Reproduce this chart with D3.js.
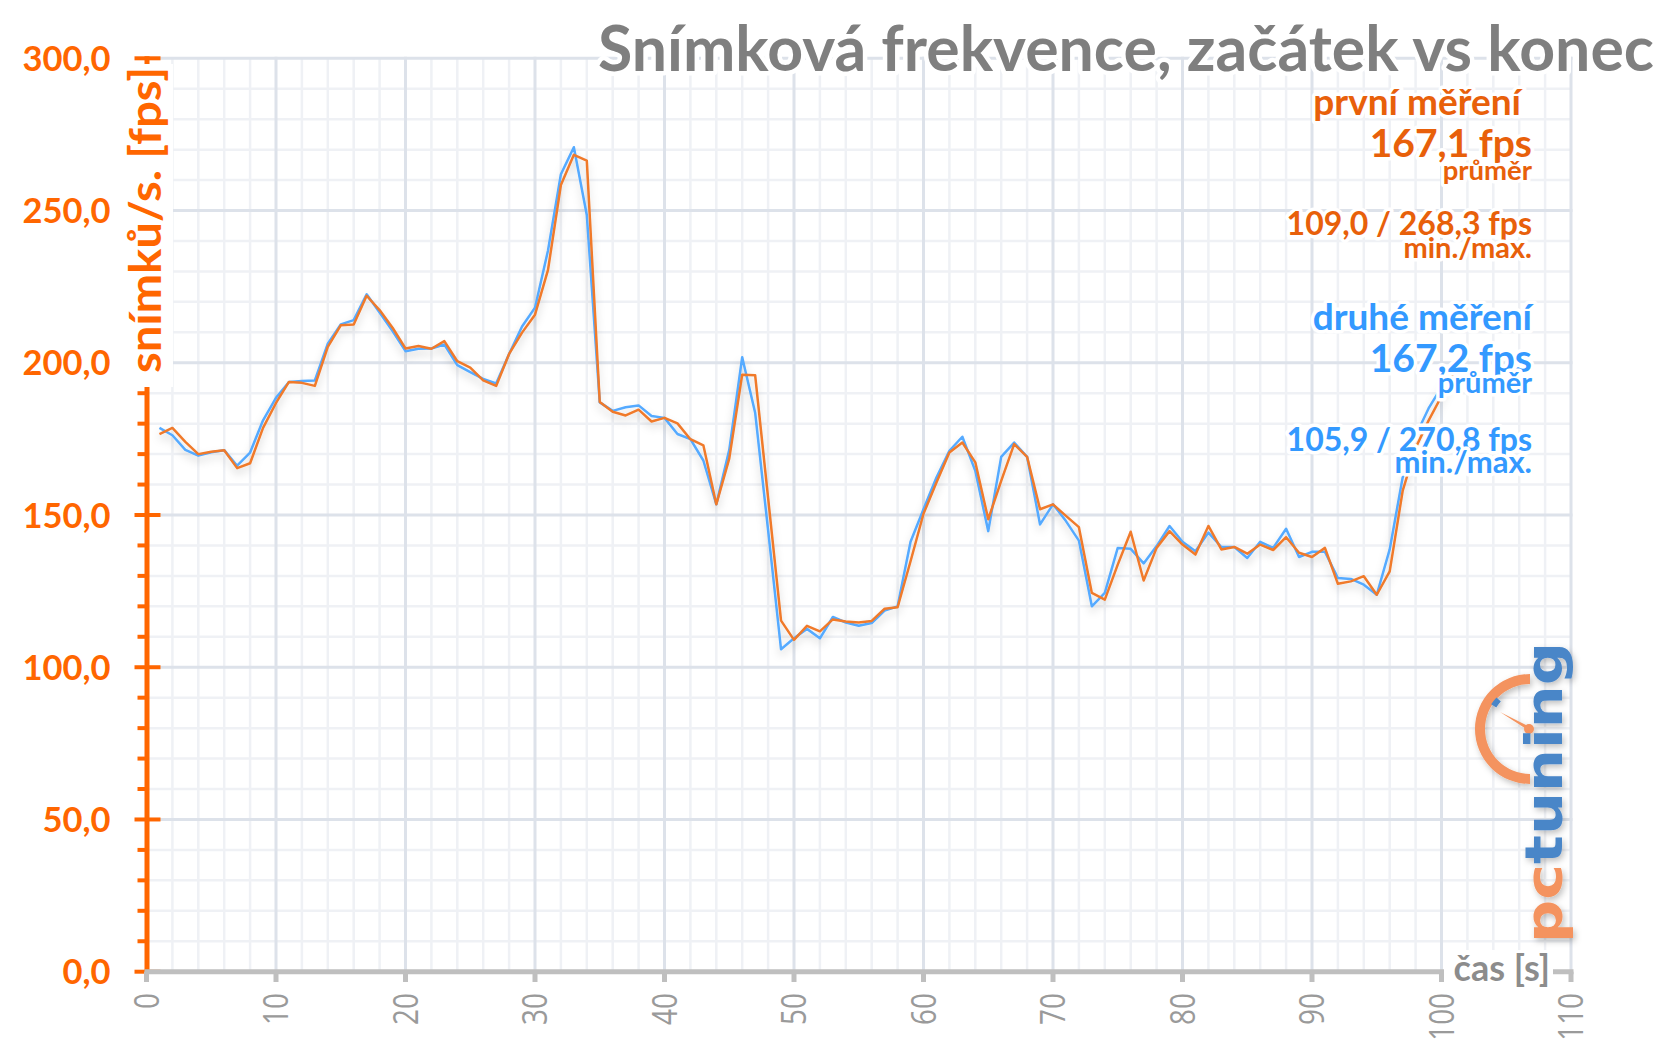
<!DOCTYPE html>
<html><head><meta charset="utf-8">
<script src="https://cdn.jsdelivr.net/npm/d3@7"></script>
<style>html,body{margin:0;padding:0;background:#fff;} svg{display:block;}</style>
</head><body>
<svg id="chart" width="1668" height="1058"></svg>
<script>
// ---------------- DATA ----------------
const seconds = [1,2,3,4,5,6,7,8,9,10,11,12,13,14,15,16,17,18,19,20,21,22,23,24,25,26,27,28,29,30,
  31,32,33,34,35,36,37,38,39,40,41,42,43,44,45,46,47,48,49,50,51,52,53,54,55,56,57,58,59,60,
  61,62,63,64,65,66,67,68,69,70,71,72,73,74,75,76,77,78,79,80,81,82,83,84,85,86,87,88,89,90,
  91,92,93,94,95,96,97,98,99,100,101];
// první měření (orange)
const firstRun = [176.6,178.6,174.0,170.0,170.8,171.3,165.4,167.0,178.6,186.8,
  193.7,193.4,192.4,205.2,212.3,212.6,222.0,217.3,211.5,204.7,
  205.5,204.6,207.1,200.5,198.4,194.2,192.4,202.9,209.9,215.8,
  230.4,258.4,268.3,266.4,187.1,183.9,182.7,184.6,180.7,181.9,
  180.1,174.9,172.9,153.5,168.5,196.1,195.9,155.6,115.3,109.0,
  113.6,111.8,115.7,115.0,114.7,115.2,119.2,119.7,134.8,150.4,
  160.7,170.5,173.8,167.3,148.6,161.2,173.3,169.1,151.9,153.5,
  149.7,146.0,124.4,122.2,133.7,144.5,128.5,139.2,144.7,140.3,
  137.0,146.4,138.7,139.5,137.3,140.3,138.5,142.7,137.6,136.2,
  139.2,127.4,128.2,129.9,123.8,131.5,157.9,172.0,181.0,189.0,197.0];
// druhé měření (blue)
const secondRun = [178.6,176.2,171.4,169.5,170.6,171.3,166.2,170.5,181.1,188.5,
  193.7,194.0,194.2,206.3,212.6,214.0,222.5,216.5,210.4,203.8,
  204.6,204.7,206.0,199.2,196.9,194.7,193.2,202.9,211.9,218.1,
  236.8,261.9,270.8,248.5,187.0,184.2,185.4,186.0,182.5,181.9,
  176.6,174.9,167.9,153.5,171.4,201.8,183.6,145.0,105.9,109.5,
  112.6,109.5,116.5,114.7,113.6,114.5,118.6,120.0,141.2,151.9,
  162.3,171.1,175.7,164.5,144.7,169.1,173.8,169.1,146.9,153.5,
  148.0,141.6,120.0,124.4,139.2,138.9,134.1,139.8,146.4,141.2,
  138.1,144.2,139.5,139.5,135.9,141.2,139.2,145.5,136.2,137.9,
  137.9,129.3,129.0,127.1,123.8,138.7,162.3,176.0,185.0,192.0,198.0];
const xTicks = [0,10,20,30,40,50,60,70,80,90,100,110];
const xTickLabels = ["0","10","20","30","40","50","60","70","80","90","100","110"];
const yTicks = [0,50,100,150,200,250,300];
const yTickLabels = ["0,0","50,0","100,0","150,0","200,0","250,0","300,0"];
const chartTitle = "Snímková frekvence, začátek vs konec";
const yTitle = "snímků/s. [fps]";
const xTitle = "čas [s]";
const firstStats = ["první měření", "167,1 fps", "průměr", "109,0 / 268,3 fps", "min./max."];
const secondStats = ["druhé měření", "167,2 fps", "průměr", "105,9 / 270,8 fps", "min./max."];

// ---------------- DRAW ----------------
const svg = d3.select("#chart");
const x = d3.scaleLinear().domain([0, 110]).range([146.5, 1571]);
const y = d3.scaleLinear().domain([0, 300]).range([971.7, 58.3]);

const ORANGE_AXIS = "#ff6600", ORANGE_TXT = "#e8600a", BLUE_TXT = "#3399ff";
const ORANGE_LINE = "#f07a2c", BLUE_LINE = "#55aaff";
const FONT = "Lato, 'Open Sans', sans-serif";

const defs = svg.append("defs");
const sh = defs.append("filter").attr("id", "shadow")
  .attr("x", "-5%").attr("y", "-10%").attr("width", "110%").attr("height", "130%");
sh.append("feDropShadow").attr("dx", 0).attr("dy", 5).attr("stdDeviation", 4)
  .attr("flood-color", "#000").attr("flood-opacity", 0.15);
const lsh = defs.append("filter").attr("id", "logoShadow")
  .attr("x", "-30%").attr("y", "-30%").attr("width", "160%").attr("height", "160%");
lsh.append("feDropShadow").attr("dx", 2).attr("dy", 3).attr("stdDeviation", 3)
  .attr("flood-color", "#000").attr("flood-opacity", 0.25);

// grid
const grid = svg.append("g");
const minorX = d3.range(0, 111, 2).filter(v => v % 10 !== 0);
const minorY = d3.range(0, 301, 10).filter(v => v % 50 !== 0);
grid.selectAll(".vmin").data(minorX).join("line")
  .attr("x1", d => x(d)).attr("x2", d => x(d)).attr("y1", y(300)).attr("y2", y(0))
  .attr("stroke", "#eff1f5").attr("stroke-width", 2.5);
grid.selectAll(".hmin").data(minorY).join("line")
  .attr("x1", x(0)).attr("x2", x(110)).attr("y1", d => y(d)).attr("y2", d => y(d))
  .attr("stroke", "#eff1f5").attr("stroke-width", 2.5);
grid.selectAll(".vmaj").data(xTicks).join("line")
  .attr("x1", d => x(d)).attr("x2", d => x(d)).attr("y1", y(300) - 1.5).attr("y2", y(0))
  .attr("stroke", "#dde2ea").attr("stroke-width", 3);
grid.selectAll(".hmaj").data(yTicks).join("line")
  .attr("x1", x(0)).attr("x2", x(110) + 1.5).attr("y1", d => y(d)).attr("y2", d => y(d))
  .attr("stroke", "#dde2ea").attr("stroke-width", 3);

// logo
const logo = svg.append("g").attr("filter", "url(#logoShadow)");
const cx = 1530, cy = 729;
logo.append("path")
  .attr("d", d3.arc()({innerRadius: 45, outerRadius: 55, startAngle: Math.PI, endAngle: 2 * Math.PI}))
  .attr("transform", `translate(${cx},${cy})`).attr("fill", "#f4935e");
logo.append("path")
  .attr("d", d3.arc()({innerRadius: 40, outerRadius: 46, startAngle: 1.68 * Math.PI, endAngle: 1.74 * Math.PI}))
  .attr("transform", `translate(${cx},${cy})`).attr("fill", "#4a86c8");
logo.append("path")
  .attr("d", `M${cx - 2},${cy - 3} L${cx - 30},${cy - 17} L${cx + 1},${cy + 3} Z`)
  .attr("fill", "#f4935e");
logo.append("circle").attr("cx", cx - 1).attr("cy", cy).attr("r", 5).attr("fill", "#f4935e");
const lt = logo.append("text")
  .attr("transform", "translate(1562,943) rotate(-90)")
  .attr("font-family", "'DejaVu Sans', sans-serif").attr("font-weight", "bold")
  .attr("font-size", 52).attr("textLength", 301).attr("lengthAdjust", "spacingAndGlyphs");
lt.append("tspan").attr("fill", "#f4935e").text("pc");
lt.append("tspan").attr("fill", "#4a86c8").text("tuning");

// y axis
const yAxis = svg.append("g");
yAxis.append("line").attr("x1", 147).attr("x2", 147).attr("y1", y(300) - 2).attr("y2", y(0))
  .attr("stroke", ORANGE_AXIS).attr("stroke-width", 5);
yAxis.selectAll(".ymaj").data(yTicks).join("line")
  .attr("x1", 134.5).attr("x2", 160.5).attr("y1", d => y(d)).attr("y2", d => y(d))
  .attr("stroke", ORANGE_AXIS).attr("stroke-width", 4);
yAxis.selectAll(".ymin").data(minorY).join("line")
  .attr("x1", 137.5).attr("x2", 147).attr("y1", d => y(d)).attr("y2", d => y(d))
  .attr("stroke", ORANGE_AXIS).attr("stroke-width", 4);
yAxis.selectAll(".ylab").data(yTicks).join("text")
  .attr("x", 110.5).attr("y", d => y(d) + 12.5).attr("text-anchor", "end")
  .attr("font-family", FONT).attr("font-weight", "bold").attr("font-size", 34.5)
  .attr("fill", ORANGE_AXIS).text((d, i) => yTickLabels[i]);

// y title with white box
yAxis.append("rect").attr("x", 119).attr("y", 64).attr("width", 54).attr("height", 323).attr("fill", "#fff");
yAxis.append("text").attr("transform", "translate(161,373) rotate(-90)")
  .attr("text-anchor", "start").attr("font-family", FONT).attr("font-weight", "bold")
  .attr("font-size", 44).attr("textLength", 306).attr("lengthAdjust", "spacingAndGlyphs")
  .attr("fill", ORANGE_AXIS).text(yTitle);

// series lines
const line = d3.line().x((d, i) => x(seconds[i])).y(d => y(d));
const lines = svg.append("g").attr("filter", "url(#shadow)");
lines.append("path").attr("d", line(secondRun)).attr("fill", "none")
  .attr("stroke", BLUE_LINE).attr("stroke-width", 2.5).attr("stroke-linejoin", "round");
lines.append("path").attr("d", line(firstRun)).attr("fill", "none")
  .attr("stroke", ORANGE_LINE).attr("stroke-width", 2.5).attr("stroke-linejoin", "round");

// x axis
const xAxis = svg.append("g");
xAxis.append("line").attr("x1", x(0) - 2).attr("x2", x(110) + 2.5).attr("y1", 971.7).attr("y2", 971.7)
  .attr("stroke", "#bfbfbf").attr("stroke-width", 5);
xAxis.selectAll(".xt").data(xTicks).join("line")
  .attr("x1", d => x(d)).attr("x2", d => x(d)).attr("y1", 971.7).attr("y2", 982)
  .attr("stroke", "#bfbfbf").attr("stroke-width", 5);
xAxis.selectAll(".xl").data(xTicks).join("text")
  .attr("transform", d => `translate(${x(d) + 12},993) rotate(-90) scale(0.82,1)`)
  .attr("text-anchor", "end").attr("font-family", "'Open Sans', sans-serif")
  .attr("font-size", 34).attr("fill", "#9a9a9a").text((d, i) => xTickLabels[i]);
xAxis.append("rect").attr("x", 1444).attr("y", 950).attr("width", 109).attr("height", 40).attr("fill", "#fff");
xAxis.append("text").attr("x", 1550).attr("y", 981).attr("text-anchor", "end")
  .attr("font-family", FONT).attr("font-weight", "bold").attr("font-size", 36)
  .attr("fill", "#8c8c8c").text(xTitle);

// title
svg.append("text").attr("x", 598).attr("y", 71).attr("text-anchor", "start")
  .attr("font-family", FONT).attr("font-weight", "bold").attr("font-size", 63)
  .attr("textLength", 1056).attr("lengthAdjust", "spacingAndGlyphs")
  .attr("fill", "#7f7f7f").attr("stroke", "#fff").attr("stroke-width", 9)
  .attr("stroke-linejoin", "round").attr("paint-order", "stroke")
  .text(chartTitle);

// stats annotations
const statSpec = [
  {t: firstStats[0], c: ORANGE_TXT, s: 37, y: 115, x: 1521},
  {t: firstStats[1], c: ORANGE_TXT, s: 39, y: 157, x: 1532},
  {t: firstStats[2], c: ORANGE_TXT, s: 27.5, y: 180, x: 1532},
  {t: firstStats[3], c: ORANGE_TXT, s: 32, y: 235, x: 1532},
  {t: firstStats[4], c: ORANGE_TXT, s: 29, y: 258, x: 1532},
  {t: secondStats[0], c: BLUE_TXT, s: 37, y: 330, x: 1532},
  {t: secondStats[1], c: BLUE_TXT, s: 39, y: 372, x: 1532},
  {t: secondStats[2], c: BLUE_TXT, s: 29, y: 393, x: 1532},
  {t: secondStats[3], c: BLUE_TXT, s: 32, y: 451, x: 1532},
  {t: secondStats[4], c: BLUE_TXT, s: 31, y: 473, x: 1532}
];
svg.append("g").selectAll("text").data(statSpec).join("text")
  .attr("x", d => d.x).attr("y", d => d.y).attr("text-anchor", "end")
  .attr("font-family", FONT).attr("font-weight", "bold").attr("font-size", d => d.s)
  .attr("fill", d => d.c).attr("stroke", "#fff").attr("stroke-width", 7)
  .attr("stroke-linejoin", "round").attr("paint-order", "stroke")
  .text(d => d.t);
</script>
</body></html>
